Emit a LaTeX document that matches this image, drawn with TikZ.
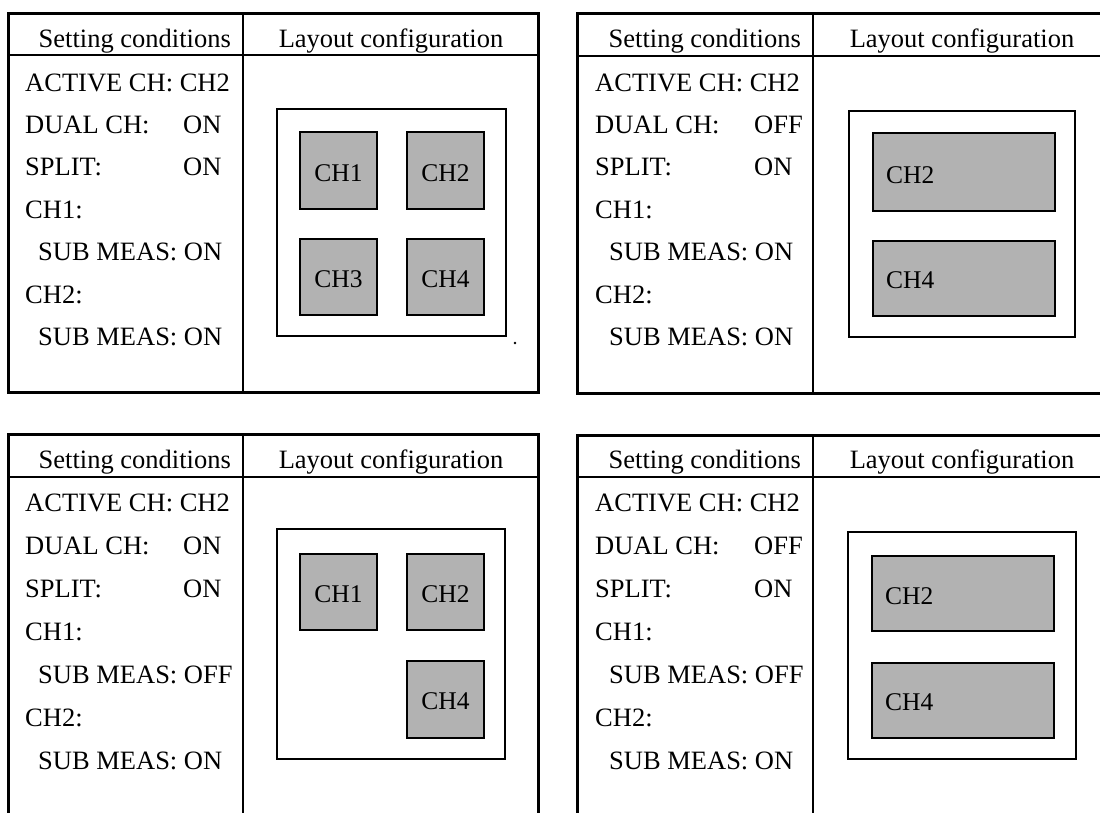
\documentclass[tikz,border=0pt]{standalone}
\usepackage{fontspec}
\setmainfont{Liberation Serif}
\begin{document}
\begin{tikzpicture}[x=1pt,y=-1pt,
  panel/.style={draw, line width=3pt},
  hrule/.style={line width=2.4pt},
  vrule/.style={line width=1.8pt},
  frame/.style={draw, line width=2pt},
  chbox/.style={draw, line width=2pt, fill=black!30},
  lbl/.style={anchor=base west, inner sep=0pt, font=\fontsize{26.5}{30}\selectfont},
  hdl/.style={anchor=base east, inner sep=0pt, font=\fontsize{26.5}{30}\selectfont},
  hdc/.style={anchor=base, inner sep=0pt, font=\fontsize{26.5}{30}\selectfont},
  chl/.style={anchor=base, inner sep=0pt, font=\fontsize{25.5}{30}\selectfont},
  chw/.style={anchor=base west, inner sep=0pt, font=\fontsize{25.5}{30}\selectfont}]
\useasboundingbox (0,0) rectangle (1100,812);
\clip (0,0) rectangle (1100,812);
\fill[white] (0,0) rectangle (1100,812);

% ---------------- Panel A (top left) ----------------
\draw[panel] (8,13) rectangle (538,392);
\draw[hrule] (8,55) -- (538,55);
\draw[vrule] (243,13) -- (243,392);
\node[hdl] (a-sc) at (231,47) {Setting conditions};
\node[hdc] (a-lc) at (391,47) {Layout configuration};
\node[lbl] (a-r1) at (25,91) {ACTIVE CH: CH2};
\node[lbl] (a-r2) at (25,133.4) {DUAL CH:};
\node[lbl] (a-r2v) at (183,133.4) {ON};
\node[lbl] (a-r3) at (25,175.8) {SPLIT:};
\node[lbl] (a-r3v) at (183,175.8) {ON};
\node[lbl] (a-r4) at (25,218.2) {CH1:};
\node[lbl] (a-r5) at (38,260.6) {SUB MEAS: ON};
\node[lbl] (a-r6) at (25,303) {CH2:};
\node[lbl] (a-r7) at (38,345.4) {SUB MEAS: ON};
\draw[frame] (277,109) rectangle (506,336);
\draw[chbox] (300,132) rectangle (377,209);
\draw[chbox] (407,132) rectangle (484,209);
\draw[chbox] (300,239) rectangle (377,315);
\draw[chbox] (407,239) rectangle (484,315);
\node[chl] (a-ch1) at (338.5,181) {CH1};
\node[chl] (a-ch2) at (445.5,181) {CH2};
\node[chl] (a-ch3) at (338.5,287) {CH3};
\node[chl] (a-ch4) at (445.5,287) {CH4};
\fill (515,343) circle (1.3);

% ---------------- Panel B (top right) ----------------
\draw[panel] (577,13) rectangle (1108,393);
\draw[hrule] (577,56) -- (1108,56);
\draw[vrule] (813,13) -- (813,393);
\node[hdl] (b-sc) at (801,47) {Setting conditions};
\node[hdc] (b-lc) at (962,47) {Layout configuration};
\node[lbl] (b-r1) at (595,91) {ACTIVE CH: CH2};
\node[lbl] (b-r2) at (595,133.4) {DUAL CH:};
\node[lbl] (b-r2v) at (754,133.4) {OFF};
\node[lbl] (b-r3) at (595,175.8) {SPLIT:};
\node[lbl] (b-r3v) at (754,175.8) {ON};
\node[lbl] (b-r4) at (595,218.2) {CH1:};
\node[lbl] (b-r5) at (609,260.6) {SUB MEAS: ON};
\node[lbl] (b-r6) at (595,303) {CH2:};
\node[lbl] (b-r7) at (609,345.4) {SUB MEAS: ON};
\draw[frame] (849,111) rectangle (1075,337);
\draw[chbox] (873,133) rectangle (1055,211);
\draw[chbox] (873,241) rectangle (1055,316);
\node[chw] (b-ch2) at (886,183) {CH2};
\node[chw] (b-ch4) at (886,288) {CH4};

% ---------------- Panel C (bottom left) ----------------
\draw[panel] (8,434) rectangle (538,818);
\draw[hrule] (8,477) -- (538,477);
\draw[vrule] (243,434) -- (243,818);
\node[hdl] (c-sc) at (231,468) {Setting conditions};
\node[hdc] (c-lc) at (391,468) {Layout configuration};
\node[lbl] (c-r1) at (25,511) {ACTIVE CH: CH2};
\node[lbl] (c-r2) at (25,554) {DUAL CH:};
\node[lbl] (c-r2v) at (183,554) {ON};
\node[lbl] (c-r3) at (25,597) {SPLIT:};
\node[lbl] (c-r3v) at (183,597) {ON};
\node[lbl] (c-r4) at (25,640) {CH1:};
\node[lbl] (c-r5) at (38,683) {SUB MEAS: OFF};
\node[lbl] (c-r6) at (25,726) {CH2:};
\node[lbl] (c-r7) at (38,769) {SUB MEAS: ON};
\draw[frame] (277,529) rectangle (505,759);
\draw[chbox] (300,554) rectangle (377,630);
\draw[chbox] (407,554) rectangle (484,630);
\draw[chbox] (407,661) rectangle (484,738);
\node[chl] (c-ch1) at (338.5,602) {CH1};
\node[chl] (c-ch2) at (445.5,602) {CH2};
\node[chl] (c-ch4) at (445.5,709) {CH4};

% ---------------- Panel D (bottom right) ----------------
\draw[panel] (577,435) rectangle (1108,818);
\draw[hrule] (577,477) -- (1108,477);
\draw[vrule] (813,435) -- (813,818);
\node[hdl] (d-sc) at (801,468) {Setting conditions};
\node[hdc] (d-lc) at (962,468) {Layout configuration};
\node[lbl] (d-r1) at (595,511) {ACTIVE CH: CH2};
\node[lbl] (d-r2) at (595,554) {DUAL CH:};
\node[lbl] (d-r2v) at (754,554) {OFF};
\node[lbl] (d-r3) at (595,597) {SPLIT:};
\node[lbl] (d-r3v) at (754,597) {ON};
\node[lbl] (d-r4) at (595,640) {CH1:};
\node[lbl] (d-r5) at (609,683) {SUB MEAS: OFF};
\node[lbl] (d-r6) at (595,726) {CH2:};
\node[lbl] (d-r7) at (609,769) {SUB MEAS: ON};
\draw[frame] (848,532) rectangle (1076,759);
\draw[chbox] (872,556) rectangle (1054,631);
\draw[chbox] (872,663) rectangle (1054,738);
\node[chw] (d-ch2) at (885,604) {CH2};
\node[chw] (d-ch4) at (885,710) {CH4};
\end{tikzpicture}
\end{document}
